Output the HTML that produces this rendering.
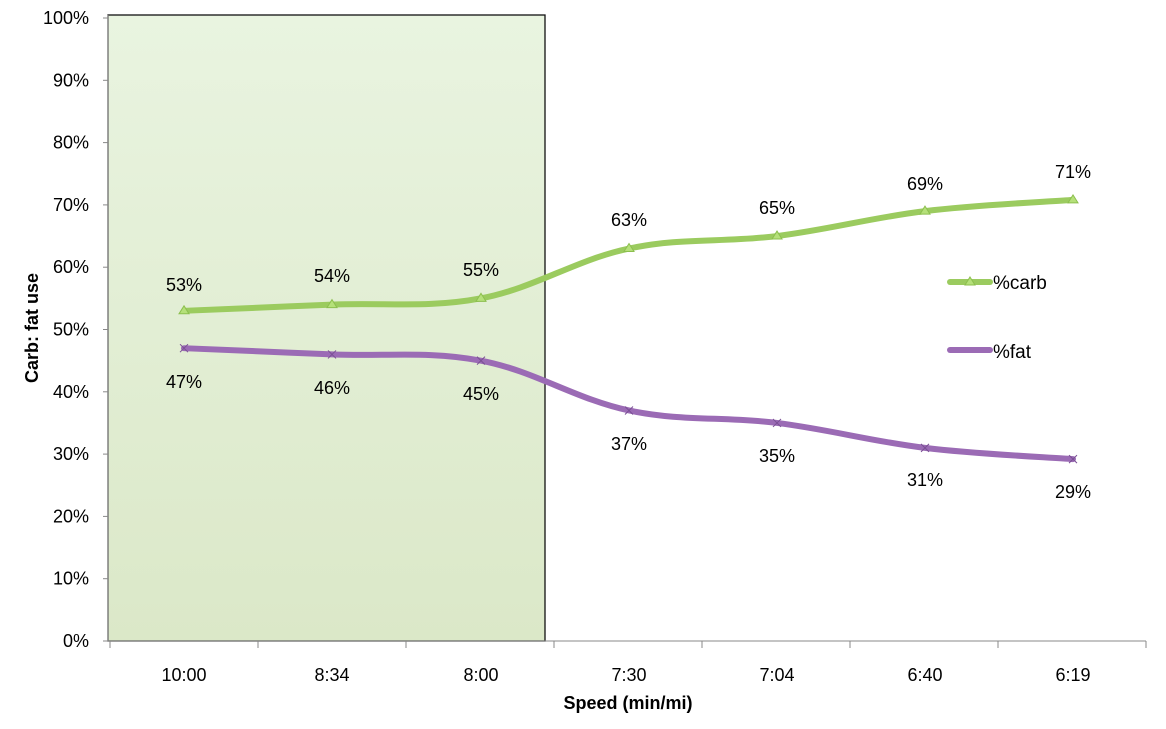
<!DOCTYPE html>
<html><head><meta charset="utf-8"><style>
body{margin:0;background:#fff}
text{font-family:"Liberation Sans",sans-serif;fill:#000}
</style></head><body>
<svg width="1166" height="724" xmlns="http://www.w3.org/2000/svg">
<defs><linearGradient id="g" x1="0" y1="0" x2="0" y2="1"><stop offset="0" stop-color="#e9f4e0"/><stop offset="1" stop-color="#dbe8c8"/></linearGradient></defs>
<rect x="108" y="15" width="437" height="626" fill="url(#g)" stroke="#111" stroke-width="1.3"/>
<g stroke="#888" stroke-width="1">
<line x1="108" y1="15" x2="108" y2="641"/>
<line x1="108" y1="641" x2="1146" y2="641"/>
</g>
<g id="ticks" stroke="#888"></g>
<g font-size="18" text-anchor="end" id="ylab"></g>
<g font-size="18" text-anchor="middle">
<text x="184" y="681">10:00</text><text x="332" y="681">8:34</text><text x="481" y="681">8:00</text><text x="629" y="681">7:30</text><text x="777" y="681">7:04</text><text x="925" y="681">6:40</text><text x="1073" y="681">6:19</text>
<text x="184" y="291">53%</text><text x="332" y="282">54%</text><text x="481" y="276">55%</text><text x="629" y="226">63%</text><text x="777" y="214">65%</text><text x="925" y="190">69%</text><text x="1073" y="178">71%</text>
<text x="184" y="388">47%</text><text x="332" y="394">46%</text><text x="481" y="400">45%</text><text x="629" y="450">37%</text><text x="777" y="462">35%</text><text x="925" y="486">31%</text><text x="1073" y="498">29%</text>
</g>
<text x="628" y="709" font-size="18" font-weight="bold" text-anchor="middle">Speed (min/mi)</text>
<text transform="translate(38,328) rotate(-90)" font-size="18" font-weight="bold" text-anchor="middle">Carb: fat use</text>
<path id="pc" fill="none" stroke="#9bcb5f" stroke-width="6" stroke-linecap="round"/>
<path id="pf" fill="none" stroke="#9b6bb5" stroke-width="6" stroke-linecap="round"/>
<g id="mk"></g>
<line x1="950" y1="282" x2="990" y2="282" stroke="#9bcb5f" stroke-width="6" stroke-linecap="round"/>
<polygon points="970,277 975,285 965,285" fill="#b5e07a" stroke="#8cbf4e" stroke-width="1"/>
<text x="993" y="289" font-size="19">%carb</text>
<line x1="950" y1="350" x2="990" y2="350" stroke="#9b6bb5" stroke-width="6" stroke-linecap="round"/>
<text x="993" y="358" font-size="19">%fat</text>
</svg>
<script>
var xs=[184,332,481,629,777,925,1073];
var c=[53,54,55,63,65,69,70.8],f=[47,46,45,37,35,31,29.2];
function Y(v){return 641-6.23*v}
function path(d){var p=xs.map(function(x,i){return [x,Y(d[i])]});var s="M"+p[0][0]+","+p[0][1];var t=0.18;
for(var i=0;i<p.length-1;i++){var p0=p[Math.max(0,i-1)],p1=p[i],p2=p[i+1],p3=p[Math.min(p.length-1,i+2)];
s+=" C"+(p1[0]+(p2[0]-p0[0])*t)+","+(p1[1]+(p2[1]-p0[1])*t)+" "+(p2[0]-(p3[0]-p1[0])*t)+","+(p2[1]-(p3[1]-p1[1])*t)+" "+p2[0]+","+p2[1];}return s;}
document.getElementById('pc').setAttribute('d',path(c));
document.getElementById('pf').setAttribute('d',path(f));
var ns="http://www.w3.org/2000/svg",mk=document.getElementById('mk');
xs.forEach(function(x,i){var y=Y(c[i]);var g=document.createElementNS(ns,'polygon');g.setAttribute('points',x+","+(y-5)+" "+(x+5)+","+(y+3)+" "+(x-5)+","+(y+3));g.setAttribute('fill','#b5e07a');g.setAttribute('stroke','#8cbf4e');mk.appendChild(g);
var y2=Y(f[i]);var l=document.createElementNS(ns,'path');l.setAttribute('d','M'+(x-4)+','+(y2-4)+'L'+(x+4)+','+(y2+4)+'M'+(x-4)+','+(y2+4)+'L'+(x+4)+','+(y2-4));l.setAttribute('stroke','#7a4f94');l.setAttribute('stroke-width','1');mk.appendChild(l);});
var tk=document.getElementById('ticks'),yl=document.getElementById('ylab');
for(var v=0;v<=100;v+=10){var y=Y(v);var l=document.createElementNS(ns,'line');l.setAttribute('x1',103);l.setAttribute('x2',108);l.setAttribute('y1',y);l.setAttribute('y2',y);tk.appendChild(l);
var t=document.createElementNS(ns,'text');t.setAttribute('x',89);t.setAttribute('y',y+6);t.textContent=v+'%';yl.appendChild(t);}
for(var i=0;i<8;i++){var x=110+148*i;var l=document.createElementNS(ns,'line');l.setAttribute('x1',x);l.setAttribute('x2',x);l.setAttribute('y1',641);l.setAttribute('y2',648);tk.appendChild(l);}
</script>
</body></html>
